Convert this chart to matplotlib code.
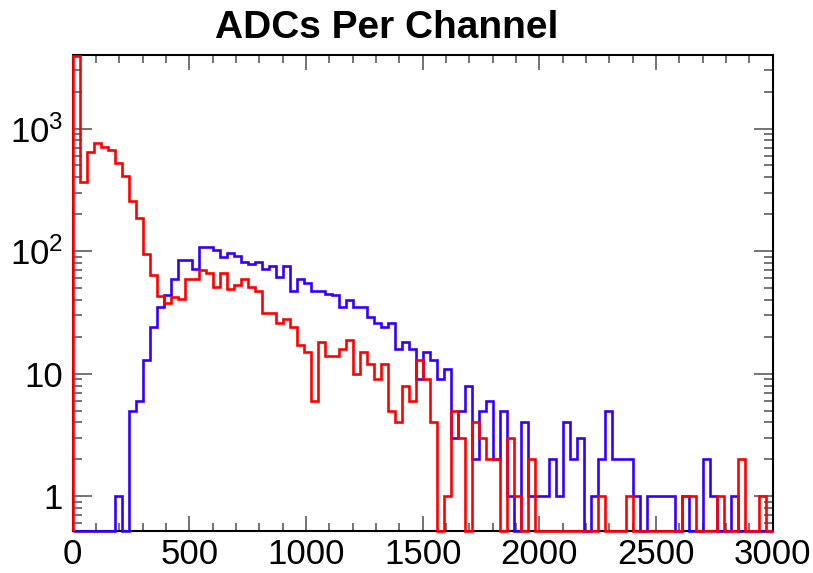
import numpy as np
import matplotlib.pyplot as plt
from matplotlib.ticker import MultipleLocator, LogLocator, NullFormatter

plt.rcParams['font.family'] = ['Liberation Sans', 'DejaVu Sans']

# 100 bins of 30 ADC counts, 0..3000
bin_edges = np.arange(0, 3001, 30)

blue_counts = [0, 0, 0, 0, 0, 0, 1, 0, 5, 6,
               13, 24, 35, 44, 59, 84, 84, 71, 108, 108,
               102, 90, 96, 92, 81, 79, 82, 71, 75, 62,
               75, 47, 59, 55, 47, 47, 45, 44, 35, 40,
               35, 35, 29, 26, 24, 26, 16, 18, 16, 9,
               15, 13, 9, 11, 3, 5, 8, 2, 5, 6,
               2, 5, 1, 0, 4, 1, 1, 1, 2, 1,
               4, 2, 3, 0, 1, 2, 5, 2, 2, 2,
               1, 0, 1, 1, 1, 1, 0, 1, 0, 0,
               2, 1, 0, 0, 1, 0, 0, 0, 0, 0]

red_counts = [3900, 370, 648, 758, 703, 668, 523, 412, 257, 188,
              95, 64, 43, 38, 42, 41, 59, 59, 70, 66,
              51, 66, 49, 53, 59, 51, 47, 31, 31, 26,
              28, 24, 17, 15, 6, 18, 14, 14, 16, 19,
              10, 15, 12, 9, 12, 5, 4, 8, 6, 13,
              9, 4, 0, 1, 5, 3, 0, 4, 3, 2,
              2, 0, 3, 1, 0, 2, 0, 0, 0, 0,
              0, 0, 0, 0, 0, 1, 0, 0, 0, 1,
              0, 0, 0, 0, 0, 0, 0, 1, 1, 0,
              0, 0, 1, 0, 0, 2, 0, 0, 1, 0]

ymin, ymax = 0.52, 4000

fig = plt.figure(figsize=(8.13, 5.73), dpi=100)
ax = fig.add_axes([0.0894, 0.0733, 0.861, 0.831])
ax.set_yscale('log')

# empty bins sit on the frame bottom like ROOT does
ax.stairs(np.clip(blue_counts, ymin, None), bin_edges, baseline=ymin,
          color='#3300ff', lw=1.9, zorder=3, clip_on=False)
ax.stairs(np.clip(red_counts, ymin, None), bin_edges, baseline=ymin,
          color='#ff0000', lw=1.9, zorder=4, clip_on=False)

ax.set_xlim(0, 3000)
ax.set_ylim(ymin, ymax)

for s in ax.spines.values():
    s.set_linewidth(1.5)
    s.set_color('black')

ax.xaxis.set_major_locator(MultipleLocator(500))
ax.xaxis.set_minor_locator(MultipleLocator(100))
ax.set_yticks([1, 10, 100, 1000])
ax.set_yticklabels(['1', '10', r'$\mathregular{10^{2}}$', r'$\mathregular{10^{3}}$'])
ax.yaxis.set_minor_locator(LogLocator(base=10, subs=range(2, 10), numticks=20))
ax.yaxis.set_minor_formatter(NullFormatter())

ax.tick_params(which='both', direction='in', top=True, right=True,
               color='0.45', width=1.4, labelsize=25)
ax.tick_params(axis='x', which='major', length=11, pad=5)
ax.tick_params(axis='x', which='minor', length=5.5)
ax.tick_params(axis='y', which='major', length=14, pad=7)
ax.tick_params(axis='y', which='minor', length=6.5)

fig.text(0.476, 0.952, 'ADCs Per Channel', ha='center', va='center',
         fontsize=28, fontweight='bold')

fig.savefig('out.png', dpi=100)
